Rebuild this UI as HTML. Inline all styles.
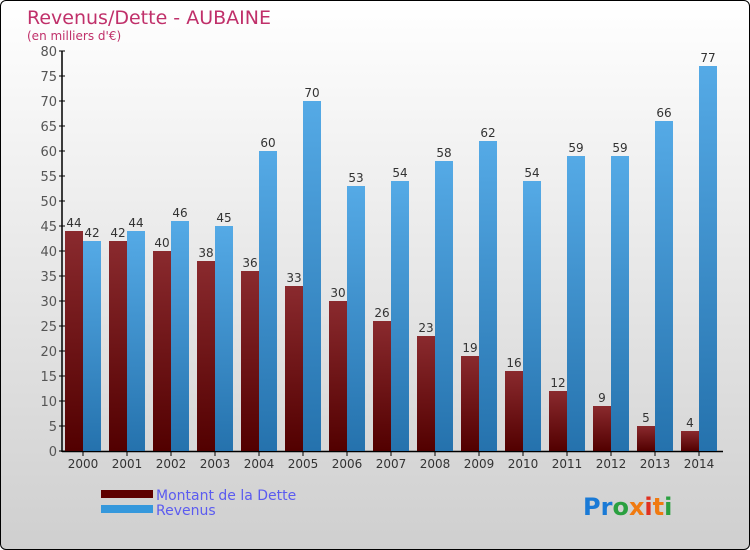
<!DOCTYPE html>
<html><head><meta charset="utf-8"><style>
body{margin:0}
#wrap{position:relative;width:748px;height:548px;border:1px solid #000;border-radius:6px;overflow:hidden;background:linear-gradient(#ffffff,#cfcfcf);font-family:"DejaVu Sans","Liberation Sans",sans-serif}
</style></head><body>
<div id="wrap">
<svg id="chart" width="748" height="548">
<defs>
<linearGradient id="gd" x1="0" y1="0" x2="0" y2="1"><stop offset="0" stop-color="#8a2a2e"/><stop offset="1" stop-color="#520000"/></linearGradient>
<linearGradient id="gr" x1="0" y1="0" x2="0" y2="1"><stop offset="0" stop-color="#55aae6"/><stop offset="1" stop-color="#2572ad"/></linearGradient>
</defs>
<text x="26" y="23" font-size="19" fill="#c0306a">Revenus/Dette - AUBAINE</text>
<text x="26" y="39" font-size="12" fill="#c0306a">(en milliers d'€)</text>
<g id="axes"></g>
<g id="bars"></g>
<rect x="100" y="489" width="52" height="8" fill="#5e0000"/>
<text x="155" y="499" font-size="14" fill="#5b5bf0">Montant de la Dette</text>
<rect x="100" y="504" width="52" height="8" fill="#3598dc"/>
<text x="155" y="514" font-size="14" fill="#5b5bf0">Revenus</text>
<text x="582" y="514" font-size="24" font-weight="bold"><tspan fill="#1a7ad6">Pr</tspan><tspan fill="#2aa040">o</tspan><tspan fill="#f07a10">x</tspan><tspan fill="#e03020">i</tspan><tspan fill="#f07a10">t</tspan><tspan fill="#2aa040">i</tspan></text>
</svg>
</div>
<script>
const years=["2000","2001","2002","2003","2004","2005","2006","2007","2008","2009","2010","2011","2012","2013","2014"];
const dette=[44,42,40,38,36,33,30,26,23,19,16,12,9,5,4];
const revenus=[42,44,46,45,60,70,53,54,58,62,54,59,59,66,77];
const yTicks=[0,5,10,15,20,25,30,35,40,45,50,55,60,65,70,75,80];
const NS="http://www.w3.org/2000/svg";
const y0=450,ppu=5,x0=82,step=44,bw=18;
const Y=v=>y0-v*ppu, X=i=>x0+i*step;
function mk(tag,attrs,parent,text){const e=document.createElementNS(NS,tag);for(const k in attrs)e.setAttribute(k,attrs[k]);if(text!==undefined)e.textContent=text;parent.appendChild(e);return e;}
const ax=document.getElementById('axes'),bars=document.getElementById('bars');
let l=mk('line',{x1:61,y1:50,x2:61,y2:451,stroke:'#000','stroke-width':1.5},ax);


l=mk('line',{x1:61,y1:450.5,x2:722,y2:450.5,stroke:'#000','stroke-width':1.5},ax);


yTicks.forEach(t=>{
  mk('line',{x1:58,y1:Y(t),x2:64,y2:Y(t),stroke:'#000'},ax);
  const tx=mk('text',{x:56,y:Y(t)+5,'font-size':13,fill:'#555','text-anchor':'end'},ax,String(t));
  
  
});
years.forEach((yr,i)=>{
  mk('line',{x1:X(i),y1:450,x2:X(i),y2:455,stroke:'#000'},ax);
  const tx=mk('text',{x:X(i),y:467,'font-size':12,fill:'#333','text-anchor':'middle'},ax,yr);
  
  
  const d=dette[i],r=revenus[i];
  const b1=mk('rect',{x:X(i)-bw,y:Y(d),width:bw,height:d*ppu,fill:'url(#gd)'},bars);
  
  
  const b2=mk('rect',{x:X(i),y:Y(r),width:bw,height:r*ppu,fill:'url(#gr)'},bars);
  
  
  const v1=mk('text',{x:X(i)-bw/2,y:Y(d)-4,'font-size':12,fill:'#333','text-anchor':'middle'},bars,String(d));
  
  
  const v2=mk('text',{x:X(i)+bw/2,y:Y(r)-4,'font-size':12,fill:'#333','text-anchor':'middle'},bars,String(r));
  
  
});
</script>
</body></html>
